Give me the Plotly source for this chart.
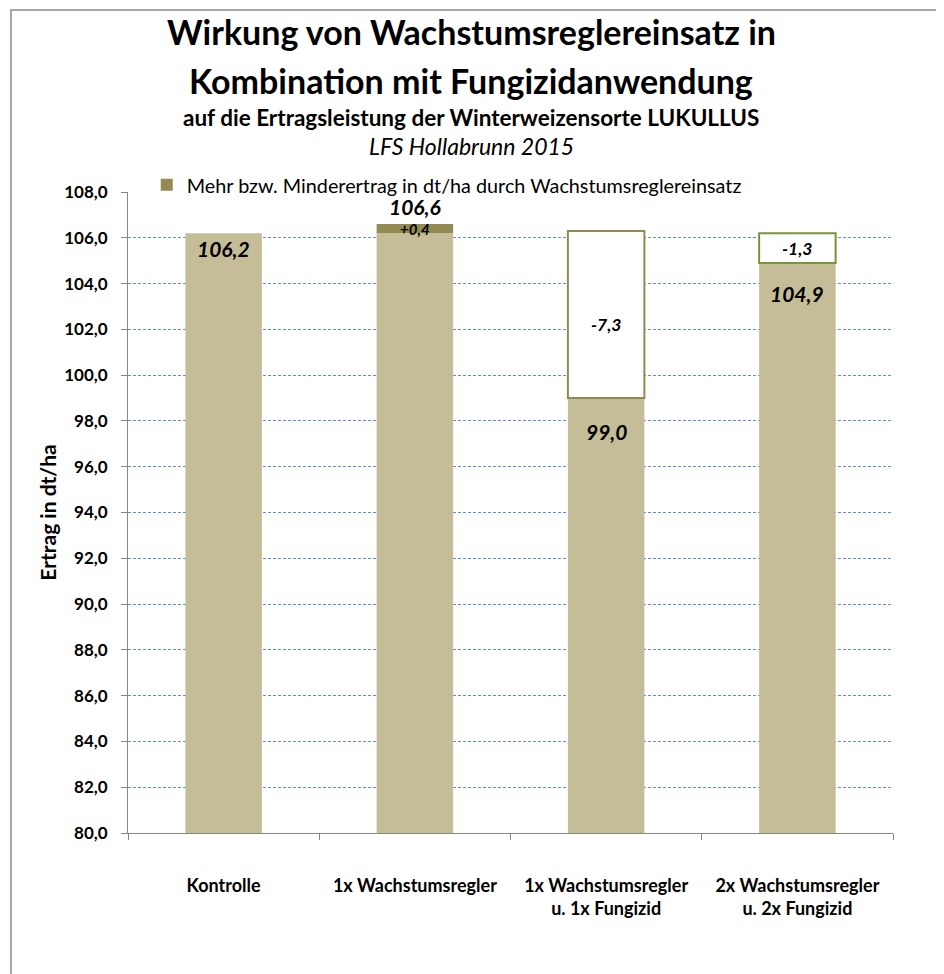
import plotly.graph_objects as go

categories = ["Kontrolle", "1x Wachstumsregler", "1x Wachstumsregler<br>u. 1x Fungizid",
              "2x Wachstumsregler<br>u. 2x Fungizid"]
ertrag = [106.2, 106.6, 99.0, 104.9]          # Ertrag in dt/ha
basis = [106.2, 106.2, 99.0, 104.9]            # sichtbarer Grundbalken
differenz = [0.0, 0.4, -7.3, -1.3]             # Mehr-/Minderertrag
y_ticks = [80 + 2 * i for i in range(15)]

FONT = "Lato, 'Open Sans', sans-serif"
TAN = "#C4BD97"
OLIVE = "#948A54"
GREEN = "#77933C"

diff_fill = [OLIVE if d >= 0 else "white" for d in differenz]
diff_line = [OLIVE, OLIVE, "#938953", GREEN]
diff_lw = [0, 0, 2, 2]

fig = go.Figure()
fig.add_trace(go.Bar(x=categories, y=basis, marker=dict(color=TAN, line=dict(width=0)),
                     width=0.4, showlegend=False, hoverinfo="skip"))
fig.add_trace(go.Bar(x=categories, y=[abs(d) for d in differenz], base=basis,
                     marker=dict(color=[OLIVE] + diff_fill[1:], line=dict(color=diff_line, width=diff_lw)),
                     width=0.4, name="Mehr bzw. Minderertrag in dt/ha durch Wachstumsreglereinsatz",
                     showlegend=True))

def fmt(v, sign=False):
    s = f"{v:+.1f}" if sign else f"{v:.1f}"
    return s.replace(".", ",")

# total value labels
val_shift = [-15, 18, -33, -31]
for c, v, s in zip(categories, ertrag, val_shift):
    fig.add_annotation(x=c, y=v, text=f"<b><i>{fmt(v)}</i></b>", showarrow=False,
                       yshift=s, font=dict(family=FONT, size=21, color="black"))
# difference labels
diff_shift = [0, 0, -10, 0]
diff_size = [16, 15, 17.5, 17.5]
for c, b, d, s, fs in zip(categories, basis, differenz, diff_shift, diff_size):
    if d == 0:
        continue
    txt = fmt(d, sign=True) if d > 0 else fmt(d)
    fig.add_annotation(x=c, y=b + abs(d) / 2, text=f"<b><i>{txt}</i></b>", showarrow=False,
                       yshift=s, font=dict(family=FONT, size=fs, color="black"))

# titles
titles = [
    ("<b>Wirkung von Wachstumsreglereinsatz in</b>", 1.251, 34),
    ("<b>Kombination mit Fungizidanwendung</b>", 1.1747, 34),
    ("<b>auf die Ertragsleistung der Winterweizensorte LUKULLUS</b>", 1.117, 22.5),
    ("<i>LFS Hollabrunn 2015</i>", 1.0716, 23),
]
for t, y, sz in titles:
    fig.add_annotation(xref="paper", yref="paper", x=0.4484, y=y, text=t, showarrow=False,
                       xanchor="center", yanchor="middle", font=dict(family=FONT, size=sz, color="black"))

# chart border
fig.add_shape(type="rect", xref="paper", yref="paper", x0=-0.153, x1=1.064, y0=-0.25, y1=1.284,
              line=dict(color="#A6A6A6", width=2), fillcolor="rgba(0,0,0,0)", layer="below")

fig.update_layout(
    width=936, height=966,
    margin=dict(l=120, r=51, t=184, b=141),
    paper_bgcolor="white", plot_bgcolor="white",
    barmode="overlay",
    separators=",.",
    font=dict(family=FONT, color="black"),
    legend=dict(x=0.0245, y=1.011, xanchor="left", yanchor="middle", orientation="h",
                font=dict(family=FONT, size=19.8, color="black"), bgcolor="rgba(0,0,0,0)",
                itemwidth=30),
    xaxis=dict(showline=True, linecolor="#868686", linewidth=1, ticks="outside", tickson="boundaries",
               ticklen=6, tickcolor="#868686", showgrid=False, ticklabelstandoff=36,
               tickfont=dict(family=FONT, size=18, color="black", weight="bold")),
    yaxis=dict(range=[80, 108], tickvals=y_ticks, tickformat=".1f", showline=True, linecolor="#868686",
               linewidth=1, ticks="outside", ticklen=6, tickcolor="#868686",
               showgrid=True, gridcolor="#5B8FD6", griddash="3px,2px", gridwidth=1,
               ticklabelstandoff=10,
               tickfont=dict(family=FONT, size=17, color="black", weight="bold"),
               title=dict(text="<b>Ertrag in dt/ha</b>", font=dict(family=FONT, size=21, color="black"),
                          standoff=1)),
)

fig.write_html("out.html")
